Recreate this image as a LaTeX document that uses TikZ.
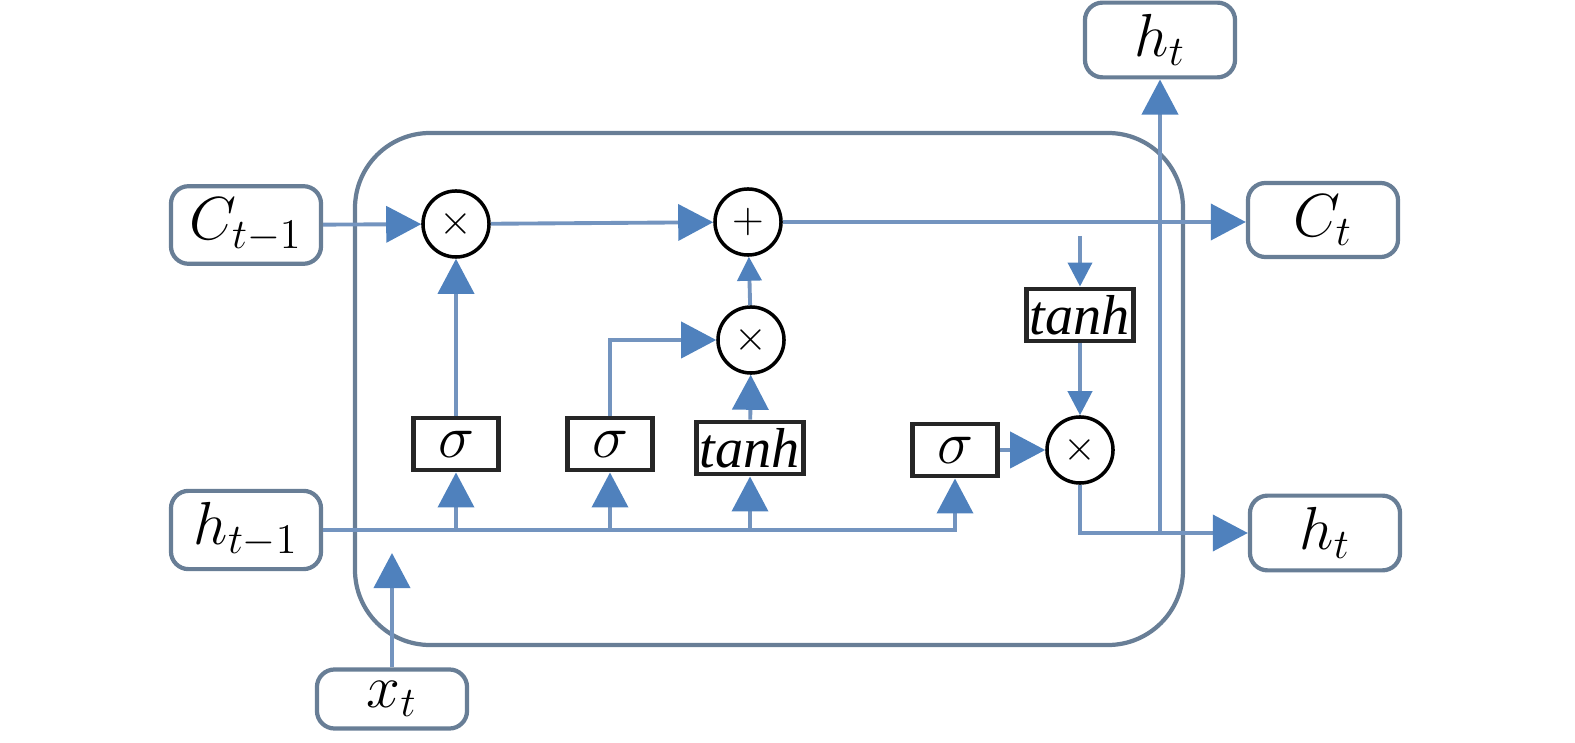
\documentclass[tikz,border=0pt]{standalone}
\usepackage{fontspec}
\setmainfont{Liberation Serif}
\usepackage{tikz}
\usetikzlibrary{arrows.meta, positioning, calc}

\definecolor{linecol}{HTML}{7394BF}
\definecolor{tipcol}{HTML}{4F81BD}
\definecolor{boxcol}{HTML}{687E96}

\tikzset{
  io/.style={draw=boxcol, line width=1.2pt, rounded corners=5pt, fill=white,
    minimum width=1.5cm, minimum height=0.59cm},
  gate/.style={draw=black!85, line width=1.4pt, fill=white, font=\fontsize{16}{18}\selectfont,
    minimum width=0.85cm, minimum height=0.52cm, inner xsep=1pt, inner ysep=1pt},
  op/.style={circle, draw=black, line width=1pt, fill=white, font=\fontsize{12}{14}\selectfont,
    minimum size=0.66cm, inner sep=0pt},
  wire/.style={draw=linecol, line width=1.1pt},
  flow/.style={wire, -{Triangle[length=0.35cm,width=0.36cm,color=tipcol]}},
  flowsm/.style={wire, -{Triangle[length=0.24cm,width=0.24cm,color=tipcol]}},
}

\begin{document}
\begin{tikzpicture}[x=0.01cm, y=-0.01cm, font=\fontsize{17}{20}\selectfont]
\useasboundingbox (0,0) rectangle (1575,743);

% LSTM cell
\draw[boxcol, line width=1.2pt, rounded corners=0.75cm] (355,133) rectangle (1183,645);

% inputs and outputs
\node[io] (cprev) at (246,225) {$C_{t-1}$};
\node[io] (hprev) at (246,530) {$h_{t-1}$};
\node[io] (xt) at (392,699) {$x_t$};
\node[io] (ct) at (1323,220) {$C_t$};
\node[io] (htr) at (1325,533) {$h_t$};
\node[io] (htu) at (1160,40) {$h_t$};

% gates
\node[gate] (fg) at (456,444) {$\sigma$};
\node[gate] (ig) at (610,444) {$\sigma$};
\node[gate] (cg) at (750,448) {\textit{tanh}};
\node[gate] (og) at (955,450) {$\sigma$};
\node[gate] (th) at (1080,315) {\textit{tanh}};

% pointwise operations
\node[op] (mf) at (456,224) {$\times$};
\node[op] (ad) at (748,222) {$+$};
\node[op] (mi) at (751,340) {$\times$};
\node[op] (mo) at (1080,450) {$\times$};

% cell state path
\draw[flow] (cprev) -- (mf);
\draw[flow] (mf) -- (ad);
\draw[flow] (ad.east) -- (ad.east -| ct.west);
\coordinate (cbr) at (1080,236);
\draw[flowsm] (cbr) -- (th);
\draw[flowsm] (th) -- (mo);

% gate connections
\draw[flow] (fg) -- (mf);
\draw[flow] (ig.north) |- (mi.west);
\draw[flow] (cg) -- (mi);
\draw[flowsm] (mi) -- (ad);
\draw[flow] (og) -- (mo);

% hidden state and input
\draw[flow] (hprev.east) -| (og.south);
\draw[flow] (fg.south |- hprev.east) -- (fg);
\draw[flow] (ig.south |- hprev.east) -- (ig);
\draw[flow] (cg.south |- hprev.east) -- (cg);
\coordinate (xin) at (392,553);
\draw[flow] (xt) -- (xin);

% output
\draw[flow] (mo.south) |- (htr.west);
\coordinate (hsplit) at (1160,533);
\draw[flow] (hsplit) -- (htu);
\end{tikzpicture}
\end{document}
